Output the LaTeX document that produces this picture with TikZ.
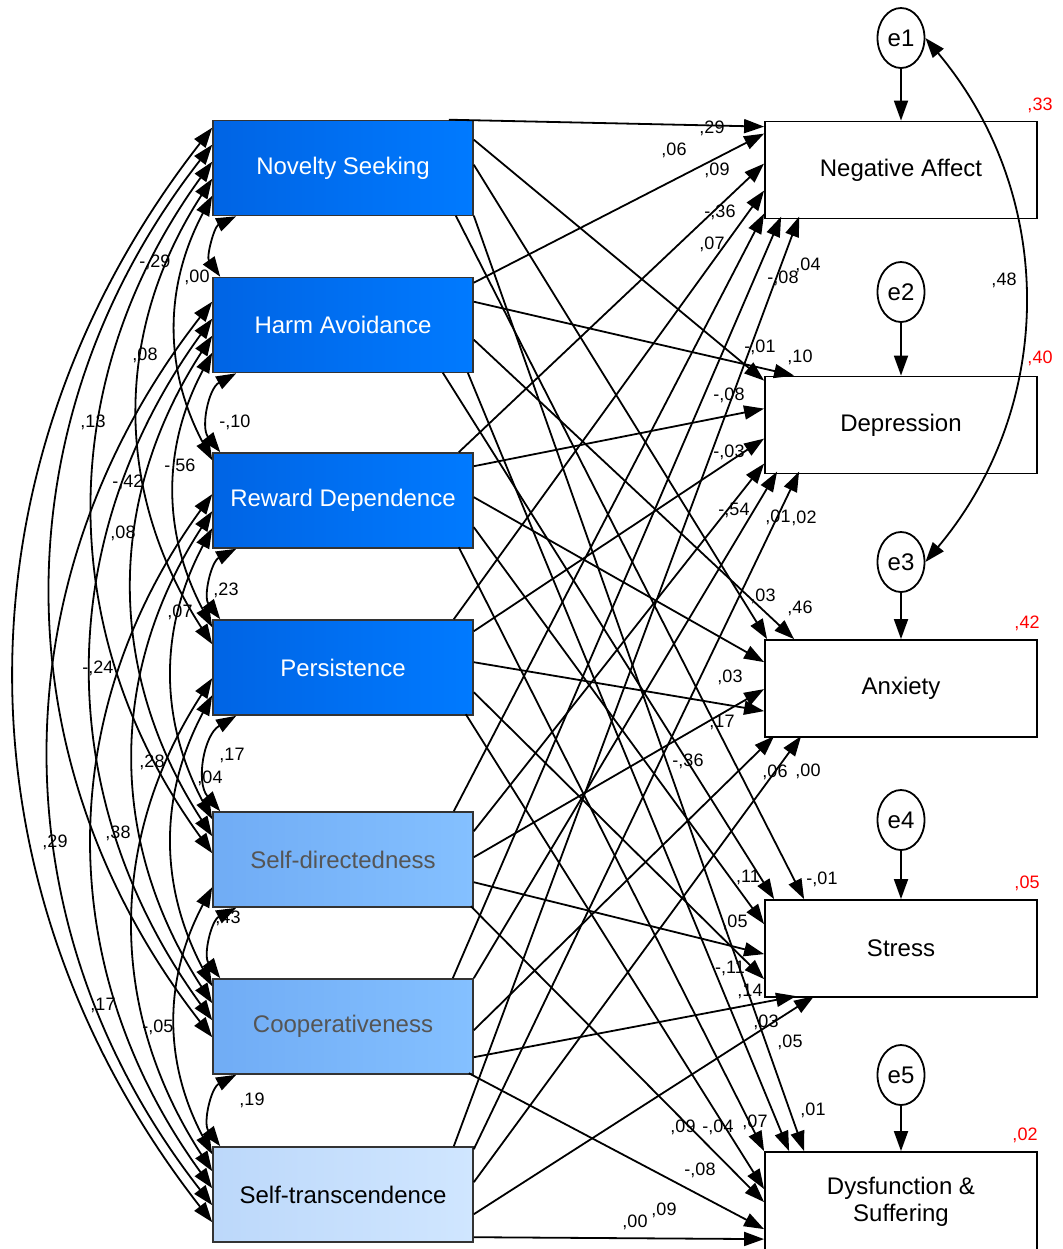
\documentclass[tikz,border=0pt]{standalone}
\usepackage{fontspec}
\setmainfont{Liberation Sans}
\usepackage{tikz}
\usepackage{xcolor}
\usetikzlibrary{arrows.meta,shapes.geometric}

\definecolor{deepL}{RGB}{0,100,228}
\definecolor{deepR}{RGB}{0,122,255}
\definecolor{midL}{RGB}{112,172,245}
\definecolor{midR}{RGB}{132,192,255}
\definecolor{paleL}{RGB}{188,216,250}
\definecolor{paleR}{RGB}{208,230,255}
\definecolor{softtext}{RGB}{85,85,85}

\tikzset{
  predbox/.style={draw=black!80,line width=0.8pt,minimum width=130pt,minimum height=47.5pt,
    inner sep=0pt,font=\fontsize{12}{14}\selectfont},
  deepfill/.style={left color=deepL,right color=deepR,text=white},
  midfill/.style={left color=midL,right color=midR,text=softtext},
  palefill/.style={left color=paleL,right color=paleR,text=black},
  outbox/.style={draw,line width=0.9pt,minimum width=136pt,minimum height=48.5pt,
    inner sep=0pt,align=center,font=\fontsize{12}{13.5}\selectfont},
  errnode/.style={draw,ellipse,line width=0.9pt,minimum width=23.5pt,minimum height=30pt,
    inner sep=0pt,font=\fontsize{12}{14}\selectfont},
  pth/.style={line width=0.9pt,-{Triangle[length=10pt,width=7pt]}},
  cov/.style={line width=0.9pt,{Triangle[length=10pt,width=7pt]}-{Triangle[length=10pt,width=7pt]}},
  coef/.style={inner sep=0pt,font=\fontsize{9}{10}\selectfont},
  rsq/.style={coef,text=red}
}

\begin{document}
\begin{tikzpicture}[x=0.5pt,y=-0.5pt]
\useasboundingbox (0,0) rectangle (1063,1249);

% predictors
\node[predbox,deepfill,alias=p0] (ns) at (343,168) {Novelty Seeking};
\node[predbox,deepfill,alias=p1] (ha) at (343,325) {Harm Avoidance};
\node[predbox,deepfill,alias=p2] (rd) at (343,500.5) {Reward Dependence};
\node[predbox,deepfill,alias=p3] (pe) at (343,667.5) {Persistence};
\node[predbox,midfill,alias=p4] (sd) at (343,859.5) {Self-directedness};
\node[predbox,midfill,alias=p5] (co) at (343,1026.5) {Cooperativeness};
\node[predbox,palefill,alias=p6] (st) at (343,1194.5) {Self-transcendence};

% outcomes
\node[outbox] (na) at (901,170) {Negative Affect};
\node[outbox] (dep) at (901,425) {Depression};
\node[outbox] (anx) at (901,688.5) {Anxiety};
\node[outbox] (str) at (901,948.5) {Stress};
\node[outbox,minimum height=50pt] (dys) at (901,1202) {Dysfunction \&\\Suffering};

% residuals
\node[errnode] (e1) at (901,38) {e1};
\node[errnode] (e2) at (901,292) {e2};
\node[errnode] (e3) at (901,562) {e3};
\node[errnode] (e4) at (901,820) {e4};
\node[errnode] (e5) at (901,1075) {e5};
\draw[pth] (e1) -- (na);
\draw[pth] (e2) -- (dep);
\draw[pth] (e3) -- (anx);
\draw[pth] (e4) -- (str);
\draw[pth] (e5) -- (dys);
\draw[cov] (e1.east) to[bend left=40] (e3.east);

% regression paths
\foreach \src/\sx/\sy/\tgt/\tx/\ty in {
  ns/-25/0/na/0/6, ns/0/20/dep/0/5, ns/0/45/anx/3/0, ns/-18/96/str/40/0, ns/0/96/dys/40/0,
  ha/0/6/na/0/13, ha/0/25/dep/30/0, ha/0/63/anx/30/0, ha/-31/96/str/10/0, ha/-6/96/dys/25/0,
  rd/-15/0/na/0/43, rd/0/14/dep/0/33, rd/0/45/anx/0/23, rd/0/75/str/0/25, rd/-15/95/dys/0/0,
  pe/-20/0/na/0/70, pe/0/12/dep/0/63, pe/0/43/anx/0/72, pe/0/73/str/0/80, pe/-8/95/dys/0/38,
  sd/-20/0/na/0/93, sd/0/20/dep/0/88, sd/0/46/anx/0/50, sd/0/71/str/0/55, sd/-3/95/dys/0/51,
  co/-21/0/na/17/96, co/0/0/dep/13/96, co/0/52/anx/10/97, co/0/79/str/32/97, co/-5/95/dys/0/78,
  st/-20/0/na/35/96, st/0/3/dep/35/96, st/0/36/anx/37/97, st/0/68/str/50/97, st/0/91/dys/0/88}
  \draw[pth] ([shift={(\sx,\sy)}]\src.north east) -- ([shift={(\tx,\ty)}]\tgt.north west);

% covariances among predictors: neighbours
\foreach \ia/\ja in {0/1,1/2,2/3,3/4,4/5,5/6}
  \draw[cov] ([shift={(24,0)}]p\ia.south west) to[bend right=50] ([shift={(8,0)}]p\ja.north west);

% covariances among predictors: wider arcs
\foreach \ia in {0,...,4}{
  \pgfmathtruncatemacro\jfirst{\ia+2}
  \foreach \ja in {\jfirst,...,6}{
    \pgfmathtruncatemacro\dd{\ja-\ia}
    \pgfmathsetmacro\ya{8+(\ia+6-\ja)*17}
    \pgfmathsetmacro\yb{8+(\dd-2)*17}
    \pgfmathsetmacro\bnd{{40,28,33,36,38,38}[\dd-1]}
    \draw[cov] ([shift={(0,\ya)}]p\ia.north west) to[bend right=\bnd] ([shift={(0,\yb)}]p\ja.north west);
  }
}

% estimates
\foreach \lab/\lx/\ly [count=\k] in {
  {-,29}/155/262, {,00}/197/277, {,08}/145/355, {,13}/93/422, {-,10}/235/422,
  {-,56}/180/466, {-,42}/128/482, {,08}/123/533, {,23}/226/590, {,07}/180/612,
  {-,24}/98/668, {,28}/152/762, {,17}/232/755, {,04}/210/778, {,38}/118/833,
  {,29}/55/842, {,43}/228/918, {,17}/103/1005, {-,05}/158/1027, {,19}/252/1100,
  {,29}/712/128, {,06}/674/150, {,09}/717/170, {-,36}/720/212, {,07}/712/244,
  {-,08}/783/278, {,04}/808/265, {-,01}/760/347, {,10}/800/357, {-,08}/729/395,
  {-,03}/729/452, {-,54}/734/510, {,01}/778/517, {,02}/804/518, {,03}/763/596,
  {,46}/800/608, {,03}/730/677, {,17}/722/722, {-,36}/688/761, {,06}/775/772,
  {,00}/808/771, {,11}/748/877, {-,01}/822/879, {,05}/735/922, {-,11}/730/968,
  {,14}/750/991, {,03}/766/1022, {,05}/790/1042, {,09}/683/1127, {-,04}/718/1127,
  {,07}/755/1122, {,01}/813/1110, {-,08}/700/1170, {,00}/635/1222, {,09}/664/1210,
  {,48}/1004/280}
  \node[coef] (c\k) at (\lx,\ly) {\lab};

\node[rsq] (r1) at (1040,105) {,33};
\node[rsq] (r2) at (1040,358) {,40};
\node[rsq] (r3) at (1027,623) {,42};
\node[rsq] (r4) at (1027,883) {,05};
\node[rsq] (r5) at (1025,1135) {,02};
\end{tikzpicture}
\end{document}
